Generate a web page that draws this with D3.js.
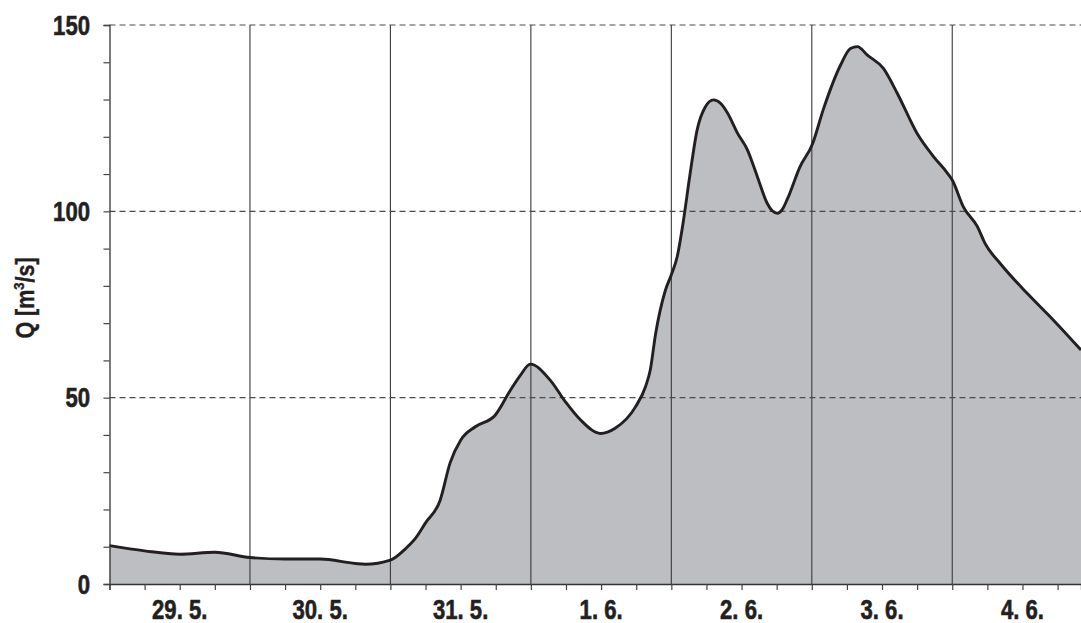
<!DOCTYPE html>
<html><head><meta charset="utf-8">
<script src="https://cdn.jsdelivr.net/npm/d3@7/dist/d3.min.js"></script>
<style>body{margin:0;background:#fff}svg{display:block}</style>
</head><body>
<svg id="c" width="1081" height="623"></svg>
<script>
// hours since 29.5. 00:00
const hours = [0,6,12,18,24,30,36,42,43.7,48,50.6,52.3,54,56.5,58.2,60,62.5,65.9,68.5,70.2,71.9,75.3,77.9,80.5,83.9,86.4,89.9,91.6,92.4,93.3,95,96,97,98,99.2,100.4,101.8,103.2,104.4,105.6,107.3,109,110.7,112.4,113.2,114.1,115.0,115.8,118,120.1,122,124.9,126.6,127.8,129.5,132.2,134.6,138,140.8,143.2,144,145.9,148.3,149.6,152.2,156.8,161.3,166];
const discharge = [10.3,8.9,8.0,8.5,7.1,6.7,6.7,5.5,5.3,6.4,9.5,12.3,16.4,22.5,32.5,38.6,42.2,45.3,52,56,59.0,54.7,48.9,44,40.4,41.8,47.6,53,57.4,67,78.9,83,87.8,96.8,110,121.8,128,129.9,129,126.4,121,116.5,109.3,102.1,100.2,99.5,100.6,103.2,112,118,127.5,139.2,143.7,144.2,141.9,138.4,131.7,120.9,114.7,110.2,108.4,101.2,95.9,91.4,86,78,70.8,62.8];
const dayLabels = ["29. 5.","30. 5.","31. 5.","1. 6.","2. 6.","3. 6.","4. 6."];
const yTicks = [0,50,100,150];

const svg = d3.select("#c");
const L = 109.5, R = 1081, T = 25, B = 584;
const x = d3.scaleLinear().domain([0,166]).range([L,R]);
const y = d3.scaleLinear().domain([0,150]).range([B,T]);
const data = hours.map((h,i)=>({h, q:discharge[i]}));
const font = "'Liberation Sans',Arial,sans-serif";
const SX = 0.82;
const ink = "#231f20";

svg.append("path").datum(data)
  .attr("d", d3.area().x(d=>x(d.h)).y0(y(0)).y1(d=>y(d.q)).curve(d3.curveMonotoneX))
  .attr("fill","#bdbec2");

// vertical day grid
const dayBounds = d3.range(1,7).map(d=>d*24);
svg.append("g").selectAll("line").data(dayBounds).join("line")
  .attr("x1",d=>x(d)).attr("x2",d=>x(d)).attr("y1",T).attr("y2",B)
  .attr("stroke","#3a3a3a").attr("stroke-width",1.1);

// horizontal dashed grid
svg.append("g").selectAll("line").data(yTicks.filter(v=>v>0)).join("line")
  .attr("x1",L).attr("x2",R).attr("y1",d=>y(d)).attr("y2",d=>y(d))
  .attr("stroke","#4a4a4a").attr("stroke-width",1.1).attr("stroke-dasharray","6,4");

svg.append("path").datum(data)
  .attr("d", d3.line().x(d=>x(d.h)).y(d=>y(d.q)).curve(d3.curveMonotoneX))
  .attr("fill","none").attr("stroke",ink).attr("stroke-width",2.9).attr("stroke-linejoin","round");

// y axis
const yAxis = d3.axisLeft(y).tickValues(d3.range(0,151,10)).tickSize(6).tickFormat("");
const gy = svg.append("g").attr("transform",`translate(${L},0)`).call(yAxis);
gy.select(".domain").attr("stroke","#333").attr("stroke-width",1.3);
gy.selectAll(".tick line").attr("stroke","#444").attr("stroke-width",1.2);

svg.append("g").selectAll("text").data(yTicks).join("text")
  .attr("transform",d=>`translate(90,${y(d)}) scale(${SX},1)`).attr("dy","0.36em").attr("text-anchor","end")
  .attr("font-family",font).attr("font-weight","bold").attr("font-size",27).attr("fill",ink)
  .attr("stroke",ink).attr("stroke-width",0.6)
  .text(d=>d);

// x axis
const xAxis = d3.axisBottom(x).tickValues(d3.range(0,166,6)).tickSize(6).tickFormat("");
const gx = svg.append("g").attr("transform",`translate(0,${B})`).call(xAxis);
gx.select(".domain").attr("stroke","#333").attr("stroke-width",1.3);
gx.selectAll(".tick line").attr("stroke","#444").attr("stroke-width",1.2);

svg.append("g").selectAll("text").data(dayLabels).join("text")
  .attr("transform",(d,i)=>`translate(${x(12+24*i)},619) scale(${SX},1)`).attr("text-anchor","middle")
  .attr("font-family",font).attr("font-weight","bold").attr("font-size",27)
  .attr("fill",ink).attr("stroke",ink).attr("stroke-width",0.6).text(d=>d);

const yl = svg.append("text").attr("transform","translate(34,298) rotate(-90) scale(0.86,1)").attr("text-anchor","middle")
  .attr("font-family",font).attr("font-weight","bold").attr("font-size",25).attr("fill",ink)
  .attr("stroke",ink).attr("stroke-width",0.4);
yl.append("tspan").text("Q [m");
yl.append("tspan").attr("font-size",15).attr("dy",-10).text("3");
yl.append("tspan").attr("dy",10).text("/s]");
</script>
</body></html>
